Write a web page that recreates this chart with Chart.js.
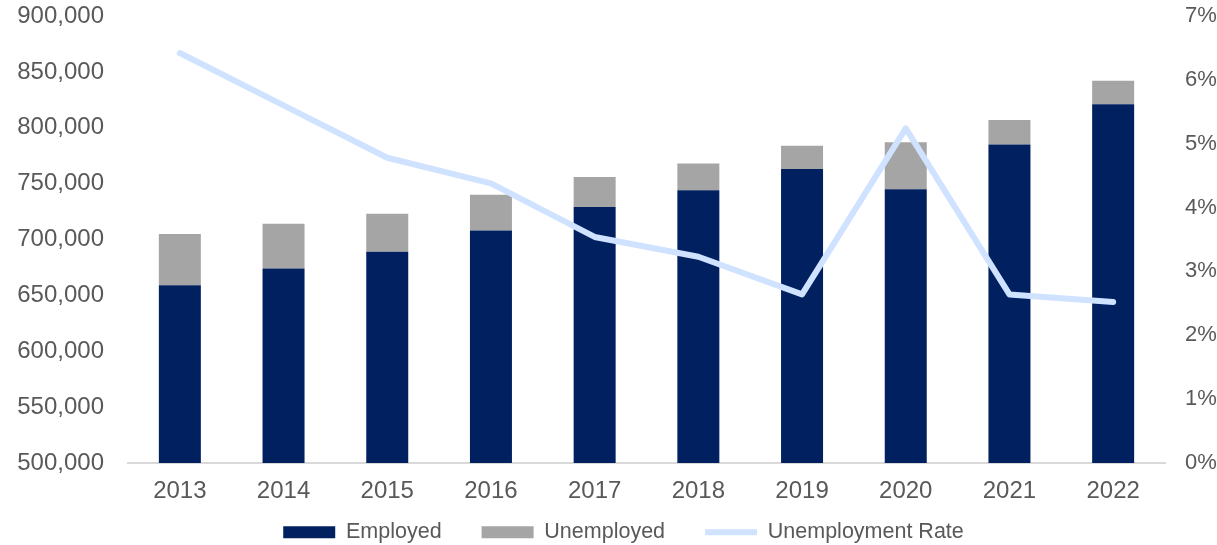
<!DOCTYPE html>
<html>
<head>
<meta charset="utf-8">
<script src="https://cdn.jsdelivr.net/npm/chart.js@4"></script>
<style>
html,body{margin:0;padding:0;background:#fff;}
#wrap{width:1217px;height:545px;}
</style>
</head>
<body>
<div id="wrap"><canvas id="c" width="1217" height="545"></canvas></div>
<script>
const years = ['2013','2014','2015','2016','2017','2018','2019','2020','2021','2022'];
const employed = [659000, 674000, 689000, 708000, 729000, 744000, 763000, 745000, 785000, 821000];
const unemployed = [46000, 40000, 34000, 32000, 27000, 24000, 21000, 42000, 22000, 21000];
const unemploymentRate = [6.42, 5.6, 4.78, 4.38, 3.54, 3.23, 2.64, 5.24, 2.64, 2.52];
const leftTicks = [500000, 550000, 600000, 650000, 700000, 750000, 800000, 850000, 900000];
const rightTicks = [0, 1, 2, 3, 4, 5, 6, 7];

const FAM = '"Liberation Sans", Arial, sans-serif';
const textColor = '#595959';
const PAD_BOTTOM = -8;
const PAD_LEFT = 30;
const PLOT_LEFT = 128;
const PLOT_BOTTOM = 463;
const noClip = () => undefined;

new Chart(document.getElementById('c'), {
  data: {
    labels: years,
    datasets: [
      {type: 'bar', label: 'Employed', data: employed, backgroundColor: '#002060', borderWidth: 0,
       yAxisID: 'y', stack: 's', order: 2, barPercentage: 0.81, categoryPercentage: 0.5, pointStyle: 'rect'},
      {type: 'bar', label: 'Unemployed', data: unemployed, backgroundColor: '#A5A5A5', borderWidth: 0,
       yAxisID: 'y', stack: 's', order: 2, barPercentage: 0.81, categoryPercentage: 0.5, pointStyle: 'rect'},
      {type: 'line', label: 'Unemployment Rate', data: unemploymentRate, borderColor: '#CFE2FF', backgroundColor: '#CFE2FF',
       borderWidth: 6, pointRadius: 0, pointHoverRadius: 0, pointStyle: 'line', tension: 0,
       borderCapStyle: 'round', borderJoinStyle: 'round', yAxisID: 'y1', order: 1}
    ]
  },
  options: {
    responsive: false,
    animation: false,
    devicePixelRatio: 1,
    layout: {padding: {top: 16, left: PAD_LEFT, right: 0, bottom: PAD_BOTTOM}},
    plugins: {
      tooltip: {enabled: false},
      legend: {
        position: 'bottom',
        labels: {
          usePointStyle: true,
          pointStyleWidth: 52,
          boxHeight: 12,
          padding: 40,
          color: textColor,
          font: {family: FAM, size: 21.5},
          sort: (a, b) => a.datasetIndex - b.datasetIndex
        }
      }
    },
    scales: {
      x: {
        stacked: true,
        grid: {display: false, drawTicks: false},
        border: {display: true, color: '#D9D9D9', width: 2},
        ticks: {color: textColor, font: {family: FAM, size: 24}, padding: 14, maxRotation: 0, autoSkip: false},
        afterFit: (s) => {
          const lg = s.chart.legend;
          const lh = (lg && lg.height) ? lg.height : 71.5;
          s.height = s.chart.height - PAD_BOTTOM - lh - PLOT_BOTTOM;
          s._computeLabelArea = noClip;
        }
      },
      y: {
        type: 'linear', position: 'left', stacked: true,
        min: 500000, max: 900000,
        grid: {display: false, drawTicks: false},
        border: {display: false},
        afterBuildTicks: (s) => { s.ticks = leftTicks.map(v => ({value: v})); },
        afterFit: (s) => { s.width = PLOT_LEFT - PAD_LEFT; s.paddingTop = 0; s.paddingBottom = 0; s._computeLabelArea = noClip; },
        ticks: {color: textColor, font: {family: FAM, size: 24}, padding: 24,
                callback: (v) => v.toLocaleString('en-US')}
      },
      y1: {
        type: 'linear', position: 'right',
        min: 0, max: 7,
        grid: {display: false, drawTicks: false},
        border: {display: false},
        afterBuildTicks: (s) => { s.ticks = rightTicks.map(v => ({value: v})); },
        afterFit: (s) => { s.width = 52; s.paddingTop = 0; s.paddingBottom = 0; },
        ticks: {color: textColor, font: {family: FAM, size: 22}, padding: 20,
                callback: (v) => v + '%'}
      }
    }
  }
});
</script>
</body>
</html>
